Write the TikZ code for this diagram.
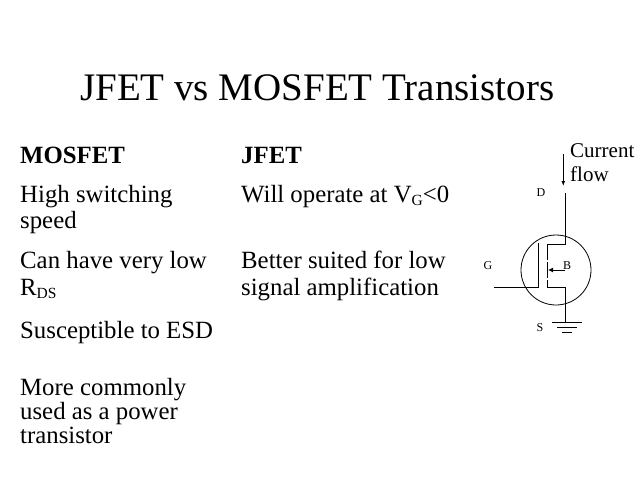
\documentclass[tikz,border=0pt]{standalone}
\usepackage{fontspec}
\setmainfont{Liberation Serif}
\usetikzlibrary{arrows.meta}
\tikzset{
  x=1pt,y=-1pt,
  title/.style={anchor=base west,inner sep=0pt,font=\fontsize{39}{39}\selectfont},
  body/.style={anchor=base west,inner sep=0pt,font=\fontsize{24.8}{26}\selectfont,align=left},
  small/.style={anchor=base,inner sep=0pt,font=\fontsize{12}{14}\selectfont},
  capt/.style={anchor=base west,inner sep=0pt,font=\fontsize{21}{25}\selectfont,align=left},
  wire/.style={line width=1pt,black}
}
\newcommand{\subtxt}[1]{\raisebox{-3pt}{\fontsize{15.5}{15.5}\selectfont #1}}
\begin{document}
\begin{tikzpicture}
\useasboundingbox[fill=white] (0,0) rectangle (638,479);
\node[title] (t) at (80,100) {JFET vs MOSFET Transistors};
\node[body] (m0) at (20,163) {\textbf{MOSFET}};
\node[body] (j0) at (241,163) {\textbf{JFET}};
\node[body] (m1) at (20,202) {High switching};
\node[body] (m1b) at (20,228) {speed};
\node[body] (j1) at (241,202) {Will operate at V\subtxt{G}<0};
\node[body] (m2) at (20,268) {Can have very low};
\node[body] (m2b) at (20,295) {R\subtxt{DS}};
\node[body] (j2) at (241,268) {Better suited for low};
\node[body] (j2b) at (241,295) {signal amplification};
\node[body] (m3) at (20,338) {Susceptible to ESD};
\node[body] (m4) at (20,395) {More commonly};
\node[body] (m4b) at (20,419) {used as a power};
\node[body] (m4c) at (20,443) {transistor};
\node[capt] (c) at (570,157) {Current};
\node[capt] (c2) at (570,181) {flow};
\node[small] (D) at (541,196) {D};
\node[small] (G) at (488,269) {G};
\node[small] (B) at (567,269) {B};
\node[small] (S) at (540,331) {S};
\coordinate (a1) at (563.3,154);
\coordinate (a2) at (563.3,186);
\draw[wire,-{Latex[length=5pt,width=4pt]}] (a1) -- (a2);
\coordinate (dtop) at (565.3,193);
\coordinate (dk) at (565.3,244);
\coordinate (dc) at (547.3,244);
\coordinate (sc) at (547.3,287);
\coordinate (sk) at (565.3,287);
\coordinate (gnd) at (565.3,322);
\coordinate (bk) at (565.3,270);
\coordinate (bc) at (548,270);
\draw[wire] (dtop) -- (dk) -- (dc) -- (547.3,260);
\draw[wire] (547.3,262) -- (547.3,278);
\draw[wire] (547.3,280) -- (sc) -- (sk) -- (gnd);
\draw[wire,-{Latex[length=5pt,width=5pt]}] (bk) -- (bc);
\draw[wire] (538,243) -- (538,287) -- (494,287);
\node[circle,draw,line width=0.8pt,minimum size=70pt,inner sep=0pt] (circ) at (556,270) {};
\draw[wire] (552,322) -- (582,322);
\draw[wire] (557,327) -- (577,327);
\draw[wire] (562,332) -- (572,332);
\end{tikzpicture}
\end{document}
